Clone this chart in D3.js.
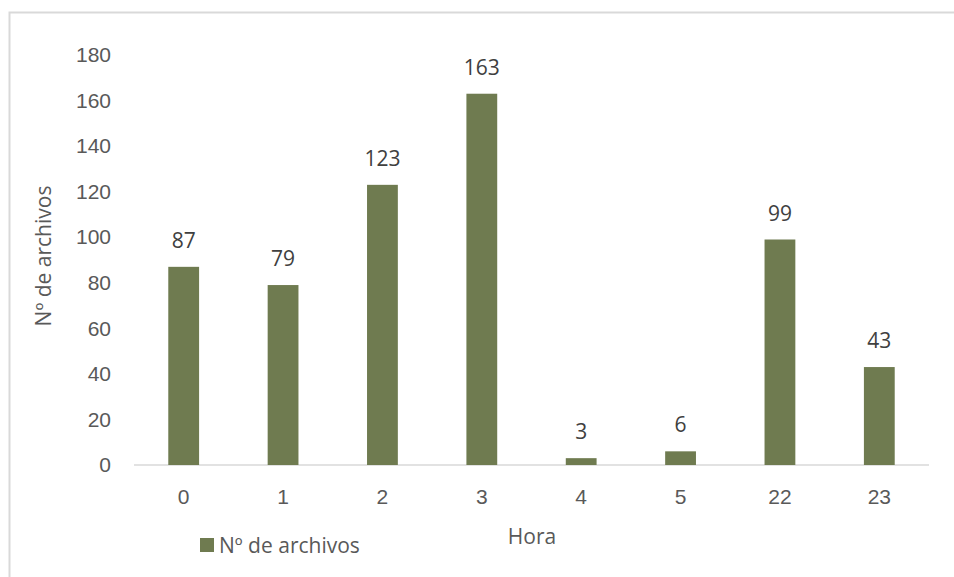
<!DOCTYPE html>
<meta charset="utf-8">
<style>
  body { margin: 0; background: #fff; }
  svg { display: block; font-family: "Open Sans", sans-serif; }
  .tick text { fill: #595959; font-size: 21px; }
  .label { fill: #404040; font-size: 21px; text-anchor: middle; }
  .title { fill: #595959; font-size: 21px; }
</style>
<svg width="954" height="577"></svg>
<script src="https://d3js.org/d3.v7.min.js"></script>
<script>

var horas = ["0", "1", "2", "3", "4", "5", "22", "23"];
var archivos = [87, 79, 123, 163, 3, 6, 99, 43];
var yTicks = [0, 20, 40, 60, 80, 100, 120, 140, 160, 180];
var serieNombre = "Nº de archivos";

var svg = d3.select("svg"),
    width = +svg.attr("width"),
    height = +svg.attr("height");

var margin = {left: 134, right: 25, top: 55, bottom: 112};
var barColor = "#6f7b50";

// chart frame (only top and left edges show)
svg.append("path")
    .attr("d", "M9.5," + height + "V12.5H" + width)
    .attr("fill", "none")
    .attr("stroke", "#d9d9d9")
    .attr("stroke-width", 2);

var x = d3.scaleBand()
    .domain(horas)
    .range([margin.left, width - margin.right])
    .paddingInner(0.69)
    .paddingOuter(0.345);

var y = d3.scaleLinear()
    .domain([0, 180])
    .range([height - margin.bottom, margin.top]);

// y axis: labels only
var yAxis = svg.append("g")
    .attr("transform", "translate(" + (margin.left - 23) + ",0)")
    .call(d3.axisLeft(y).tickValues(yTicks).tickSize(0).tickPadding(0));
yAxis.select(".domain").remove();

// x axis
var xAxis = svg.append("g")
    .attr("transform", "translate(0," + y(0) + ")")
    .call(d3.axisBottom(x).tickSize(0).tickPadding(24));
xAxis.select(".domain").remove();
svg.append("line")
    .attr("x1", margin.left).attr("x2", width - margin.right)
    .attr("y1", y(0)).attr("y2", y(0))
    .attr("stroke", "#d9d9d9")
    .attr("stroke-width", 1.5);

svg.append("g")
  .selectAll("rect")
  .data(archivos)
  .enter().append("rect")
    .attr("x", function(d, i) { return x(horas[i]); })
    .attr("y", function(d) { return y(d); })
    .attr("width", x.bandwidth())
    .attr("height", function(d) { return y(0) - y(d); })
    .attr("fill", barColor);

svg.append("g")
  .selectAll("text")
  .data(archivos)
  .enter().append("text")
    .attr("class", "label")
    .attr("x", function(d, i) { return x(horas[i]) + x.bandwidth() / 2; })
    .attr("y", function(d) { return y(d) - 19; })
    .text(function(d) { return d; });

// axis titles
svg.append("text")
    .attr("class", "title")
    .attr("text-anchor", "middle")
    .attr("transform", "translate(51,256) rotate(-90)")
    .text("Nº  de archivos");

svg.append("text")
    .attr("class", "title")
    .attr("text-anchor", "middle")
    .attr("x", 532)
    .attr("y", 544)
    .text("Hora");

// legend
svg.append("rect")
    .attr("x", 200).attr("y", 538)
    .attr("width", 14).attr("height", 14)
    .attr("fill", barColor);
svg.append("text")
    .attr("class", "title")
    .attr("x", 219).attr("y", 553)
    .text(serieNombre);

</script>
